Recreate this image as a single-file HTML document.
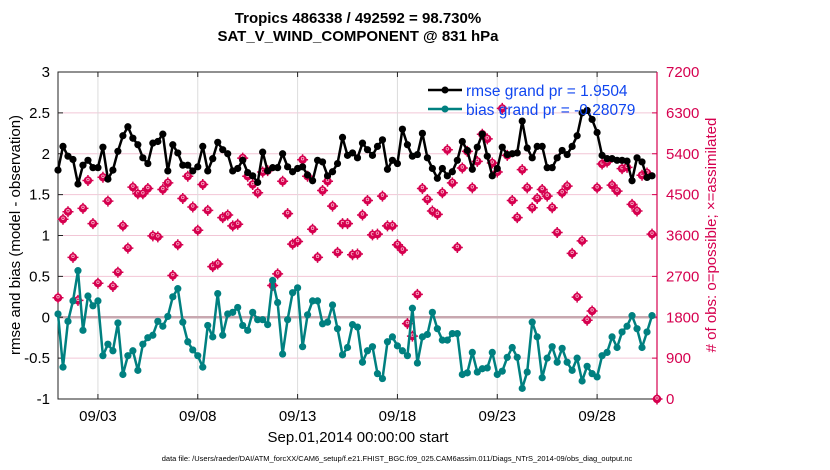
<!DOCTYPE html>
<html><head><meta charset="utf-8"><style>
body{margin:0;background:#fff;}
svg{display:block;font-family:"Liberation Sans",Arial,sans-serif;}
</style></head><body>
<svg id="chart" width="830" height="470" viewBox="0 0 830 470" xmlns="http://www.w3.org/2000/svg">
<text x="358" y="23" text-anchor="middle" font-size="15" font-weight="bold">Tropics 486338 / 492592 = 98.730%</text>
<text x="358" y="41" text-anchor="middle" font-size="15" font-weight="bold">SAT_V_WIND_COMPONENT @ 831 hPa</text>
<g id="grid"></g>
<g id="axes"></g>
<g id="marks"></g>
<text transform="translate(20,235) rotate(-90)" text-anchor="middle" font-size="15">rmse and bias (model - observation)</text>
<text transform="translate(716,235) rotate(-90)" text-anchor="middle" font-size="15" fill="#d6004f"># of obs: o=possible; ×=assimilated</text>
<text x="358" y="442" text-anchor="middle" font-size="15">Sep.01,2014 00:00:00 start</text>
<text x="397" y="461" text-anchor="middle" font-size="7.5">data file: /Users/raeder/DAI/ATM_forcXX/CAM6_setup/f.e21.FHIST_BGC.f09_025.CAM6assim.011/Diags_NTrS_2014-09/obs_diag_output.nc</text>
<g>
<line x1="428" y1="90" x2="462" y2="90" stroke="#000" stroke-width="2.5"/><circle cx="445" cy="90" r="3.5" fill="#000"/>
<text x="466" y="96" font-size="15.5" fill="#1046f0">rmse grand pr = 1.9504</text>
<line x1="428" y1="109" x2="462" y2="109" stroke="#008080" stroke-width="2.5"/><circle cx="445" cy="109" r="3.5" fill="#008080"/>
<text x="466" y="115" font-size="15.5" fill="#1046f0">bias grand pr = -0.28079</text>
</g>
</svg>
<script>
const rmse=[1.80,2.09,1.97,1.93,1.63,1.86,1.92,1.83,1.83,2.08,1.69,1.80,2.03,2.22,2.33,2.19,2.11,1.95,1.88,2.13,2.15,2.24,1.79,2.11,2.01,1.86,1.86,1.79,1.84,2.09,1.79,1.94,2.14,2.05,2.00,1.79,1.82,1.92,1.77,1.73,1.65,2.02,1.79,1.83,1.83,2.00,1.84,1.78,1.82,1.84,1.74,1.67,1.92,1.90,1.73,1.78,1.88,2.20,1.98,2.01,
1.95,2.13,2.05,1.98,2.09,2.17,1.81,1.92,1.88,2.30,2.11,1.97,1.99,2.25,1.95,1.82,1.70,1.82,1.73,1.78,1.92,2.15,2.04,1.81,2.08,2.24,1.97,1.73,1.82,2.08,1.99,2.00,2.01,2.40,2.07,1.95,2.09,2.09,1.83,1.83,1.95,2.04,1.99,2.09,2.22,2.50,2.53,2.42,2.26,1.98,1.94,1.94,1.92,1.92,1.91,1.67,1.95,1.90,1.71,1.73];
const bias=[0.04,-0.61,-0.05,0.20,0.57,-0.16,0.26,0.14,0.20,-0.47,-0.33,-0.41,-0.07,-0.70,-0.47,-0.41,-0.65,-0.33,-0.25,-0.22,-0.05,-0.11,0.01,0.25,0.35,-0.06,-0.30,-0.40,-0.47,-0.61,-0.10,-0.24,0.29,-0.22,0.04,0.06,0.12,-0.10,-0.16,0.06,-0.03,-0.03,-0.09,0.45,0.18,-0.45,-0.03,0.30,0.36,-0.36,0.03,0.20,0.20,-0.08,-0.06,0.15,-0.14,-0.46,-0.37,-0.09,
-0.12,-0.55,-0.41,-0.36,-0.69,-0.75,-0.30,-0.24,-0.35,-0.41,-0.47,0.11,-0.56,-0.24,-0.21,0.06,-0.14,-0.28,-0.28,-0.20,-0.20,-0.70,-0.68,-0.43,-0.67,-0.63,-0.62,-0.43,-0.70,-0.66,-0.49,-0.37,-0.49,-0.87,-0.67,-0.06,-0.24,-0.74,-0.50,-0.36,-0.55,-0.38,-0.55,-0.65,-0.50,-0.78,-0.60,-0.69,-0.73,-0.47,-0.43,-0.24,-0.37,-0.18,-0.11,0.02,-0.14,-0.37,-0.18,0.02];
const nobs=[2230,3957,4124,3119,2172,4197,4810,3862,2550,4882,4358,2478,2791,3811,3323,4664,4518,4518,4635,3593,3571,4613,4759,2718,3396,4416,4904,4227,3716,4722,4154,2915,2973,3993,4052,3811,3847,5305,4904,4722,4540,4999,5028,2500,2755,4795,4081,3410,3469,5269,4904,3738,3119,4591,4795,4248,3228,3862,3862,3177,
3192,4052,4372,3614,3629,4467,3811,3811,3396,3279,1661,1385,2303,4635,4394,4139,4066,4540,5487,4759,3337,5086,5451,4650,5232,5830,5728,5196,4999,6398,5363,4372,3993,5050,4650,4212,4416,4613,4467,4212,3665,4540,4686,3206,2244,3483,1734,1938,4650,5174,5218,4708,4576,5072,5101,4285,4139,4926,4977,3629,0];
const xTickDays=[2,7,12,17,22,27];
const xTickLabels=["09/03","09/08","09/13","09/18","09/23","09/28"];
const yTicks=[-1,-0.5,0,0.5,1,1.5,2,2.5,3];
const yTickLabels=["-1","-0.5","0","0.5","1","1.5","2","2.5","3"];
const y2Ticks=[0,900,1800,2700,3600,4500,5400,6300,7200];

const X0=58,X1=657,Y0=399,Y1=72;
const xs=d=>X0+(d/30)*(X1-X0);
const ys=v=>Y0-(v+1)/4*(Y0-Y1);
const ys2=v=>Y0-v/7200*(Y0-Y1);
const NS="http://www.w3.org/2000/svg";
function mk(parent,tag,attrs){const e=document.createElementNS(NS,tag);for(const k in attrs)e.setAttribute(k,attrs[k]);parent.appendChild(e);return e;}
const grid=document.getElementById('grid'),axes=document.getElementById('axes'),marks=document.getElementById('marks');
const PINK="#d6004f";
yTicks.forEach((v,i)=>{
  const g=mk(grid,'line',{x1:X0,x2:X1,y1:ys(v),y2:ys(v),stroke:'#f2c6d6','stroke-width':1});
  
  
  const t=mk(axes,'text',{x:X0-8,y:ys(v)+5,'text-anchor':'end','font-size':15});
  t.textContent=yTickLabels[i];
  
  
  mk(axes,'line',{x1:X0,x2:X0+5,y1:ys(v),y2:ys(v),stroke:'#222'});
});
y2Ticks.forEach(v=>{
  const t=mk(axes,'text',{x:X1+9,y:ys2(v)+5,'font-size':15,fill:PINK});
  t.textContent=String(v);
  
  
  mk(axes,'line',{x1:X1-5,x2:X1,y1:ys2(v),y2:ys2(v),stroke:PINK});
});
xTickDays.forEach((d,i)=>{
  const g=mk(grid,'line',{x1:xs(d),x2:xs(d),y1:Y1,y2:Y0,stroke:'#dcdcdc'});
  
  
  mk(axes,'line',{x1:xs(d),x2:xs(d),y1:Y0,y2:Y0-5,stroke:'#222'});
  mk(axes,'line',{x1:xs(d),x2:xs(d),y1:Y1,y2:Y1+5,stroke:'#222'});
  const t=mk(axes,'text',{x:xs(d),y:Y0+22,'text-anchor':'middle','font-size':15});
  t.textContent=xTickLabels[i];
  
  
});
const zl=mk(grid,'line',{x1:X0,x2:X1,y1:ys(0),y2:ys(0),stroke:'#c8a8b0','stroke-width':2.5});


mk(axes,'path',{d:`M${X1},${Y1} H${X0} V${Y0} H${X1}`,fill:'none',stroke:'#222','stroke-width':1});
mk(axes,'line',{x1:X1,x2:X1,y1:Y1,y2:Y0,stroke:PINK,'stroke-width':1.2});

nobs.forEach((v,i)=>{
  const cx=xs(i/4),cy=ys2(v);
  const g=mk(marks,'g',{});
  
  
  mk(g,'circle',{cx:cx,cy:cy,r:4.2,fill:PINK});
  mk(g,'path',{d:`M${cx-5.5},${cy}H${cx+5.5}M${cx},${cy-5.5}V${cy+5.5}`,stroke:PINK,'stroke-width':1.5});
  mk(g,'circle',{cx:cx,cy:cy-1,r:1.3,fill:'none',stroke:'#f7b8cc','stroke-width':0.8});
});
function series(vals,color,name){
  const pts=vals.map((v,i)=>xs(i/4).toFixed(1)+','+ys(v).toFixed(1)).join(' ');
  const pl=mk(marks,'polyline',{points:pts,fill:'none',stroke:color,'stroke-width':2.5,'stroke-linejoin':'round'});
  
  
  vals.forEach((v,i)=>{
    const c=mk(marks,'circle',{cx:xs(i/4),cy:ys(v),r:3.6,fill:color});
    
    
  });
}
series(rmse,'#000','rmse');
series(bias,'#008080','bias');
</script>
</body></html>
